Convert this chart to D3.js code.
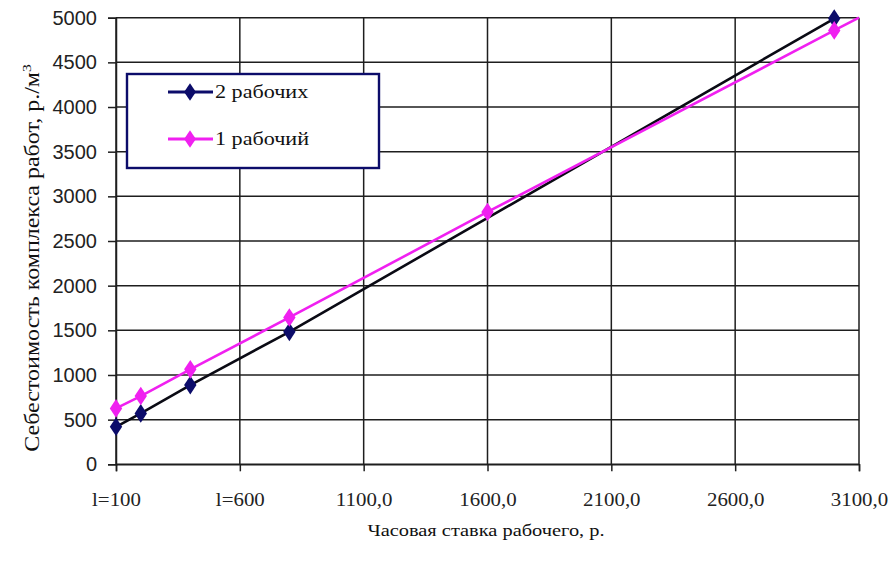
<!DOCTYPE html>
<html>
<head>
<meta charset="utf-8">
<script src="https://cdn.jsdelivr.net/npm/d3@7/dist/d3.min.js"></script>
<style>
  html, body { margin: 0; padding: 0; background: #fff; }
  svg { display: block; }
  .serif { font-family: "Liberation Serif", "Times New Roman", Times, serif; }
  .sans { font-family: "Liberation Sans", Arial, Helvetica, sans-serif; }
</style>
</head>
<body>
<svg id="chart" width="893" height="577"></svg>
<script>
// Hourly wage of a worker (x) vs. cost of the work package per m³ (y)
const xTicks = [100, 600, 1100, 1600, 2100, 2600, 3100];
const xTickLabels = ["l=100", "l=600", "1100,0", "1600,0", "2100,0", "2600,0", "3100,0"];
const yTicks = [0, 500, 1000, 1500, 2000, 2500, 3000, 3500, 4000, 4500, 5000];

// "2 рабочих"
const twoWorkersX = [100, 200, 400, 800, 3000];
const twoWorkersY = [420, 570, 887, 1483, 4990];

// "1 рабочий" (last point closes the line at the corner, no marker)
const oneWorkerX = [100, 200, 400, 800, 1600, 3000, 3100];
const oneWorkerY = [626, 764, 1063, 1644, 2825, 4858, 5000];
const oneWorkerMarked = [true, true, true, true, true, true, false];

const seriesNames = ["2 рабочих", "1 рабочий"];

const svg = d3.select("#chart");
const x = d3.scaleLinear().domain([100, 3100]).range([116, 859]);
const y = d3.scaleLinear().domain([0, 5000]).range([464.3, 17.7]);

const gridColor = "#1e1e1e";
const navy = "#0c0c6a";
const magenta = "#f020f0";

// gridlines
svg.append("g").selectAll("line").data(yTicks).join("line")
  .attr("x1", x(100)).attr("x2", x(3100))
  .attr("y1", d => y(d)).attr("y2", d => y(d))
  .attr("stroke", gridColor).attr("stroke-width", 1.5);
svg.append("g").selectAll("line").data(xTicks).join("line")
  .attr("x1", d => x(d)).attr("x2", d => x(d))
  .attr("y1", y(5000)).attr("y2", y(0))
  .attr("stroke", gridColor).attr("stroke-width", 1.5);

// axes
const yAxis = d3.axisLeft(y).tickValues(yTicks).tickSize(8).tickPadding(11).tickFormat(d3.format("d"));
const gy = svg.append("g").attr("transform", `translate(${x(100)},0)`).call(yAxis);
gy.attr("font-family", null);
gy.select(".domain").attr("stroke", gridColor).attr("stroke-width", 1.5);
gy.selectAll(".tick line").attr("stroke", gridColor).attr("stroke-width", 1.5);
gy.selectAll(".tick text").attr("class", "sans")
  .attr("font-size", 20).attr("fill", "#222");

const xAxis = d3.axisBottom(x).tickValues(xTicks).tickSize(7).tickPadding(21)
  .tickFormat((d, i) => xTickLabels[i]);
const gx = svg.append("g").attr("transform", `translate(0,${y(0)})`).call(xAxis);
gx.attr("font-family", null);
gx.select(".domain").attr("stroke", gridColor).attr("stroke-width", 1.5);
gx.selectAll(".tick line").attr("stroke", gridColor).attr("stroke-width", 1.5);
gx.selectAll(".tick text").attr("class", "serif")
  .attr("font-size", 19).attr("fill", "#222")
  .attr("transform", "scale(1.1,1)");

// series
const twoData = twoWorkersX.map((v, i) => ({x: v, y: twoWorkersY[i]}));
const oneData = oneWorkerX.map((v, i) => ({x: v, y: oneWorkerY[i], m: oneWorkerMarked[i]}));
const line = d3.line().x(d => x(d.x)).y(d => y(d.y));
const diamond = d3.symbol().type(d3.symbolDiamond).size(100);

svg.append("path").datum(twoData).attr("d", line)
  .attr("fill", "none").attr("stroke", "#0a0a14").attr("stroke-width", 2.6);
svg.append("g").selectAll("path").data(twoData).join("path")
  .attr("d", diamond).attr("transform", d => `translate(${x(d.x)},${y(d.y)}) scale(1.15,1)`)
  .attr("fill", navy);

svg.append("path").datum(oneData).attr("d", line)
  .attr("fill", "none").attr("stroke", magenta).attr("stroke-width", 2.6);
svg.append("g").selectAll("path").data(oneData.filter(d => d.m)).join("path")
  .attr("d", diamond).attr("transform", d => `translate(${x(d.x)},${y(d.y)}) scale(1.15,1)`)
  .attr("fill", magenta);

// legend
const lg = svg.append("g");
lg.append("rect").attr("x", 127).attr("y", 74).attr("width", 252).attr("height", 94)
  .attr("fill", "#fff").attr("stroke", navy).attr("stroke-width", 2.4);
const legendColors = [navy, magenta];
const legendY = [92, 139];
seriesNames.forEach((name, i) => {
  lg.append("line").attr("x1", 168).attr("x2", 213).attr("y1", legendY[i]).attr("y2", legendY[i])
    .attr("stroke", legendColors[i]).attr("stroke-width", 3);
  lg.append("path").attr("d", diamond)
    .attr("transform", `translate(190,${legendY[i]}) scale(1.1,0.95)`)
    .attr("fill", legendColors[i]);
  lg.append("text").attr("class", "serif")
    .attr("transform", `translate(215,${legendY[i] + 6}) scale(1.23,1)`)
    .attr("font-size", 18).attr("fill", "#111").text(name);
});

// axis titles
svg.append("text").attr("class", "serif")
  .attr("transform", "translate(486,536) scale(1.2,1)")
  .attr("text-anchor", "middle")
  .attr("font-size", 17).attr("fill", "#111").text("Часовая ставка рабочего, р.");

const yt = svg.append("text").attr("class", "serif")
  .attr("transform", "translate(39,258) rotate(-90) scale(1.2,1)")
  .attr("text-anchor", "middle")
  .attr("font-size", 20).attr("fill", "#111");
yt.append("tspan").text("Себестоимость комплекса работ, р./м");
yt.append("tspan").attr("dy", -8).attr("font-size", 13).text("3");
</script>
</body>
</html>
